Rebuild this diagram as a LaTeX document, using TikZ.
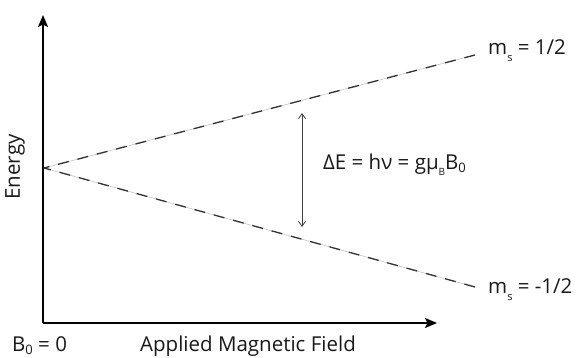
\documentclass[tikz,border=0pt]{standalone}
\usepackage{fontspec}
\setmainfont{Open Sans}
\usetikzlibrary{arrows.meta}
\newcommand\lsub[3]{\raisebox{-#1}{\fontsize{#2}{#2}\selectfont #3}}
\tikzset{
  axis/.style={line width=2pt, -{Stealth[length=12pt,width=10pt,inset=2.5pt]}},
  levelbase/.style={line width=0.5pt, gray!55},
  leveldash/.style={line width=1.3pt, black!80, dash pattern=on 11pt off 9pt},
  gap/.style={line width=0.8pt, black!75, {Straight Barb[length=5pt,width=7pt]}-{Straight Barb[length=5pt,width=7pt]}},
  lbl/.style={inner sep=0pt, font=\fontsize{20.5}{24}\selectfont, text=black!90}
}
\begin{document}
\begin{tikzpicture}[x=1pt,y=-1pt]
\useasboundingbox (0,0) rectangle (582,358);
\coordinate (O) at (43,323);
\coordinate (ytip) at (43,15);
\coordinate (xtip) at (437,323);
\coordinate (Z) at (44,168);
\coordinate (up) at (475,55);
\coordinate (lo) at (475,287);
\coordinate (gtop) at (302,113);
\coordinate (gbot) at (302,227);
\draw[axis] (O) -- (ytip);
\draw[axis] (O) -- (xtip);
\draw[levelbase] (Z) -- (up);
\draw[levelbase] (Z) -- (lo);
\draw[leveldash] (up) -- (Z);
\draw[leveldash] (lo) -- (Z);
\draw[gap] (gtop) -- (gbot);
\node[lbl, rotate=90, anchor=center] (energy) at (15,167) {Energy};
\node[lbl, anchor=base west] (b0) at (12,352) {B\lsub{3pt}{13}{0} = 0};
\node[lbl, anchor=base west] (field) at (140,352) {Applied Magnetic Field};
\node[lbl, anchor=base west] (de) at (323,170) {ΔE = hν = gμ\lsub{6pt}{10}{B}B\lsub{2.5pt}{13}{0}};
\node[lbl, anchor=base west] (mup) at (488,55) {m\lsub{7pt}{11}{s} = 1/2};
\node[lbl, anchor=base west] (mlo) at (488,294) {m\lsub{7pt}{11}{s} = -1/2};
\end{tikzpicture}
\end{document}
